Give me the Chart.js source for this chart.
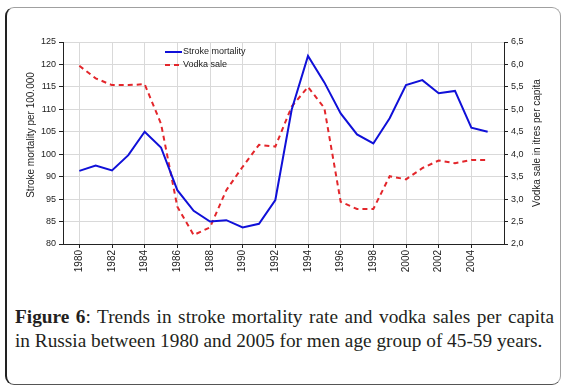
<!DOCTYPE html>
<html>
<head>
<meta charset="utf-8">
<script src="https://cdn.jsdelivr.net/npm/chart.js@4.4.0/dist/chart.umd.min.js"></script>
<style>
  html, body { margin: 0; padding: 0; background: #fff; }
  #wrap { position: relative; width: 568px; height: 391px; overflow: hidden; }
  #frame {
    position: absolute; left: 5px; top: 7px; width: 553px; height: 376px;
    border: 1px solid #a0a0a0; border-left: 2px solid #222; border-bottom-color: #555;
    border-radius: 9px;
  }
  #chartBox { position: absolute; left: 0; top: 0; width: 568px; height: 300px; }
  #caption {
    position: absolute; left: 15px; top: 305px; width: 539px;
    font-family: 'Liberation Serif', 'DejaVu Serif', serif; font-size: 19.3px; line-height: 23.5px; color: #231f20;
  }
  #caption .l1 { text-align: justify; text-align-last: justify; white-space: nowrap; }
</style>
</head>
<body>
<div id="wrap">
  <div id="frame"></div>
  <div id="chartBox"><canvas id="trendChart"></canvas></div>
  <div id="caption">
    <div class="l1"><b>Figure 6</b>: Trends in stroke mortality rate and vodka sales per capita</div>
    <div>in Russia between 1980 and 2005 for men age group of 45-59 years.</div>
  </div>
</div>
<script>
const years = [1980, 1981, 1982, 1983, 1984, 1985, 1986, 1987, 1988, 1989, 1990, 1991, 1992,
               1993, 1994, 1995, 1996, 1997, 1998, 1999, 2000, 2001, 2002, 2003, 2004, 2005];
const strokeMortality = [96.3, 97.5, 96.4, 99.8, 105.0, 101.5, 92.0, 87.4, 85.0, 85.3, 83.7, 84.5, 89.8,
                         109.9, 121.9, 116.0, 109.1, 104.4, 102.4, 108.0, 115.4, 116.5, 113.6, 114.1, 105.9, 105.0];
const vodkaSale = [5.97, 5.69, 5.54, 5.54, 5.56, 4.68, 2.83, 2.20, 2.37, 3.20, 3.72, 4.21, 4.17,
                   5.06, 5.50, 5.03, 2.94, 2.78, 2.78, 3.51, 3.44, 3.69, 3.86, 3.80, 3.87, 3.87];
const yearTicks = [1980, 1982, 1984, 1986, 1988, 1990, 1992, 1994, 1996, 1998, 2000, 2002, 2004];
// left labels as printed in the original (bottom to top)
const leftTickLabels = ['80', '85', '95', '90', '100', '105', '110', '115', '120', '125'];
const rightTickLabels = ['2,0', '2,5', '3,0', '3,5', '4,0', '4,5', '5,0', '5,5', '6,0', '6,5'];
const leftTitle = 'Stroke mortality per 100.000';
const rightTitle = 'Vodka sale in itres per capita';

const sans = "'Liberation Sans', Arial, sans-serif";
const ink = '#222';

// axis titles (both read bottom to top) and the in-plot legend
const decor = {
    id: 'decor',
    afterDraw(chart) {
        const ctx = chart.ctx;
        const a = chart.chartArea;
        ctx.save();
        ctx.fillStyle = ink;
        ctx.font = '10px ' + sans;
        ctx.textAlign = 'center';
        ctx.textBaseline = 'middle';

        ctx.save();
        ctx.translate(31, a.top + 93);
        ctx.rotate(-Math.PI / 2);
        ctx.fillText(leftTitle, 0, 0);
        ctx.restore();

        ctx.save();
        ctx.translate(537, a.top + 101);
        ctx.rotate(-Math.PI / 2);
        ctx.fillText(rightTitle, 0, 0);
        ctx.restore();

        ctx.font = '9px ' + sans;
        ctx.textAlign = 'left';
        chart.data.datasets.forEach((ds, i) => {
            const x0 = a.left + 102;
            const y = a.top + 10 + i * 13;
            ctx.beginPath();
            ctx.strokeStyle = ds.borderColor;
            ctx.lineWidth = ds.borderWidth;
            ctx.setLineDash(ds.borderDash || []);
            ctx.moveTo(x0, y);
            ctx.lineTo(x0 + 17, y);
            ctx.stroke();
            ctx.setLineDash([]);
            ctx.fillText(ds.label, x0 + 18, y);
        });
        ctx.restore();
    }
};

const ctx = document.getElementById('trendChart').getContext('2d');
const trendChart = new Chart(ctx, {
    type: 'line',
    data: {
        datasets: [
            {
                label: 'Stroke mortality',
                data: years.map((y, i) => ({ x: y, y: strokeMortality[i] })),
                borderColor: '#1010d8',
                borderWidth: 2,
                pointRadius: 0,
                tension: 0,
                yAxisID: 'y'
            },
            {
                label: 'Vodka sale',
                data: years.map((y, i) => ({ x: y, y: vodkaSale[i] })),
                borderColor: '#e3262b',
                borderWidth: 2,
                borderDash: [5, 4],
                pointRadius: 0,
                tension: 0,
                yAxisID: 'y1'
            }
        ]
    },
    options: {
        responsive: true,
        maintainAspectRatio: false,
        animation: false,
        layout: { padding: { left: 0, right: 0, top: 42, bottom: 0 } },
        plugins: {
            legend: { display: false },
            title: { display: false },
            tooltip: { enabled: false }
        },
        scales: {
            x: {
                type: 'linear',
                min: 1979,
                max: 2006,
                afterBuildTicks: s => { s.ticks = yearTicks.map(v => ({ value: v })); },
                afterFit: s => { s.height = 56; },
                grid: { color: '#d9d9d9', tickColor: ink, tickLength: 4 },
                border: { color: ink, width: 1 },
                ticks: {
                    minRotation: 90,
                    maxRotation: 90,
                    padding: 2,
                    color: ink,
                    font: { family: sans, size: 10 },
                    callback: v => String(v)
                }
            },
            y: {
                position: 'left',
                min: 80,
                max: 125,
                afterFit: s => { s.width = 63; },
                grid: { color: '#d9d9d9', tickColor: ink, tickLength: 4 },
                border: { color: ink, width: 1 },
                ticks: {
                    stepSize: 5,
                    padding: 3,
                    color: ink,
                    font: { family: "'Liberation Sans Narrow', " + sans, size: 9 },
                    callback: (v, i) => leftTickLabels[i]
                }
            },
            y1: {
                position: 'right',
                min: 2,
                max: 6.5,
                afterFit: s => { s.width = 64; },
                grid: { drawOnChartArea: false, tickColor: ink, tickLength: 4 },
                border: { color: ink, width: 1 },
                ticks: {
                    stepSize: 0.5,
                    padding: 3,
                    color: ink,
                    font: { family: sans, size: 9 },
                    callback: (v, i) => rightTickLabels[i]
                }
            }
        }
    },
    plugins: [decor]
});
</script>
</body>
</html>
